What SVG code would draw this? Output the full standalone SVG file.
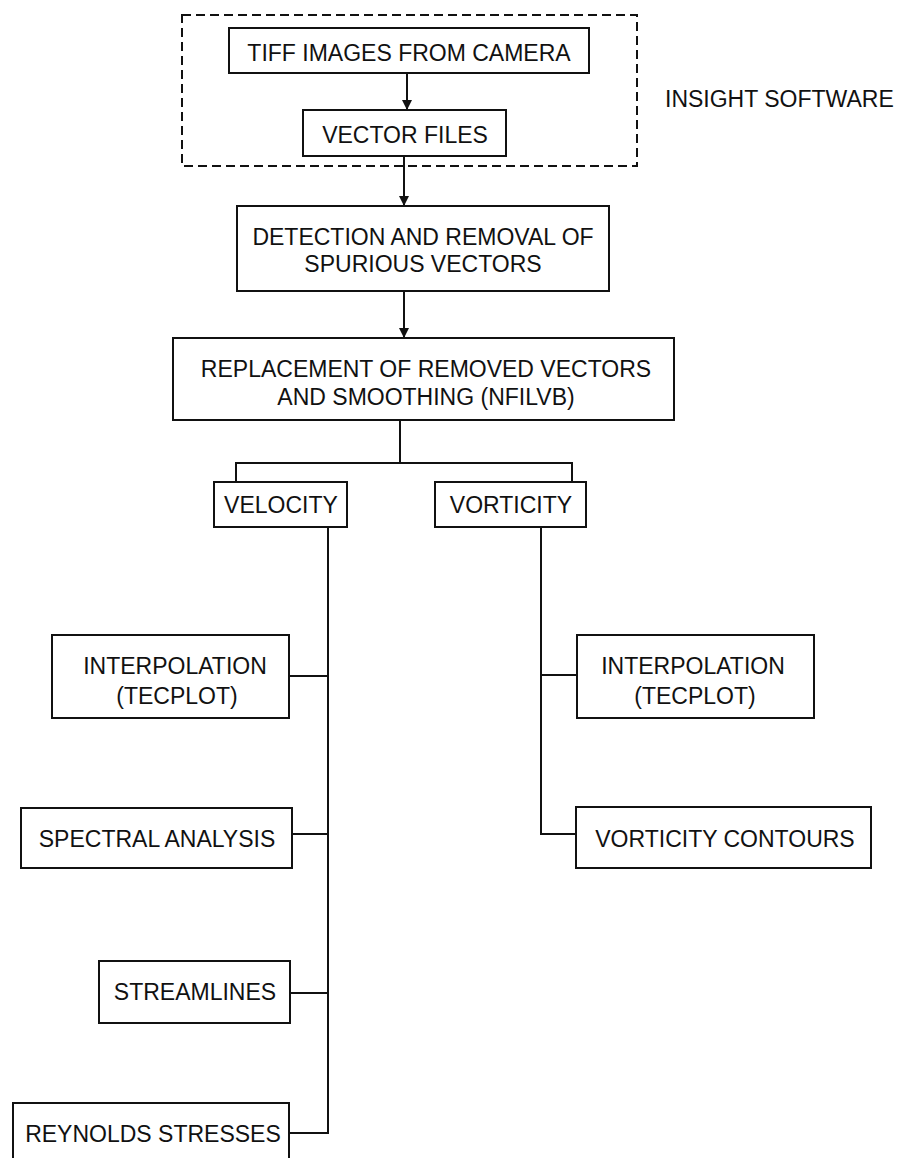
<svg xmlns="http://www.w3.org/2000/svg" width="901" height="1158" viewBox="0 0 901 1158">
<style>
.box{fill:#fff;stroke:#111;stroke-width:2}
.t{font-family:"Liberation Sans",Arial,sans-serif;font-size:23px;fill:#111;text-anchor:middle}
.ln{fill:none;stroke:#111;stroke-width:2}
</style>
<defs>
<marker id="arr" markerUnits="userSpaceOnUse" markerWidth="10" markerHeight="10" refX="10" refY="5" orient="auto">
<path d="M0,0 L10,5 L0,10 z" fill="#111"/>
</marker>
</defs>
<rect width="901" height="1158" fill="#fff"/>
<g id="insight-group">
<rect x="182" y="15" width="455" height="151" fill="none" stroke="#111" stroke-width="2" stroke-dasharray="9,5"/>
<text class="t" x="665" y="107" style="text-anchor:start">INSIGHT SOFTWARE</text>
</g>
<g id="connectors">
<line class="ln" x1="407" y1="73" x2="407" y2="110" marker-end="url(#arr)"/>
<line class="ln" x1="404" y1="156" x2="404" y2="206" marker-end="url(#arr)"/>
<line class="ln" x1="404" y1="291" x2="404" y2="338" marker-end="url(#arr)"/>
<polyline class="ln" points="400,420 400,463"/>
<polyline class="ln" points="236,482 236,463 572,463 572,482"/>
<polyline class="ln" points="328,527 328,1133 289,1133"/>
<line class="ln" x1="289" y1="676" x2="328" y2="676"/>
<line class="ln" x1="292" y1="834" x2="328" y2="834"/>
<line class="ln" x1="290" y1="993" x2="328" y2="993"/>
<polyline class="ln" points="541,527 541,834 576,834"/>
<line class="ln" x1="541" y1="675" x2="577" y2="675"/>
</g>
<g id="tiff">
<rect class="box" x="229" y="28" width="360" height="45"/>
<text class="t" x="409" y="61">TIFF IMAGES FROM CAMERA</text>
</g>
<g id="vector-files">
<rect class="box" x="303" y="110" width="203" height="46"/>
<text class="t" x="405" y="143">VECTOR FILES</text>
</g>
<g id="detection">
<rect class="box" x="237" y="206" width="372" height="85"/>
<text class="t" x="423" y="245">DETECTION AND REMOVAL OF</text>
<text class="t" x="423" y="272">SPURIOUS VECTORS</text>
</g>
<g id="replacement">
<rect class="box" x="173" y="338" width="501" height="82"/>
<text class="t" x="426" y="377">REPLACEMENT OF REMOVED VECTORS</text>
<text class="t" x="426" y="405">AND SMOOTHING (NFILVB)</text>
</g>
<g id="velocity">
<rect class="box" x="214" y="482" width="133" height="45"/>
<text class="t" x="281" y="513">VELOCITY</text>
</g>
<g id="vorticity">
<rect class="box" x="435" y="482" width="151" height="45"/>
<text class="t" x="511" y="513">VORTICITY</text>
</g>
<g id="interp-left">
<rect class="box" x="52" y="635" width="237" height="83"/>
<text class="t" x="175" y="674">INTERPOLATION</text>
<text class="t" x="177" y="704">(TECPLOT)</text>
</g>
<g id="spectral">
<rect class="box" x="21" y="808" width="271" height="60"/>
<text class="t" x="157" y="847">SPECTRAL ANALYSIS</text>
</g>
<g id="streamlines">
<rect class="box" x="99" y="961" width="191" height="62"/>
<text class="t" x="195" y="1000">STREAMLINES</text>
</g>
<g id="reynolds">
<rect class="box" x="13" y="1103" width="276" height="70"/>
<text class="t" x="153" y="1142">REYNOLDS STRESSES</text>
</g>
<g id="interp-right">
<rect class="box" x="577" y="635" width="237" height="83"/>
<text class="t" x="693" y="674">INTERPOLATION</text>
<text class="t" x="695" y="704">(TECPLOT)</text>
</g>
<g id="vort-contours">
<rect class="box" x="576" y="807" width="295" height="61"/>
<text class="t" x="725" y="847">VORTICITY CONTOURS</text>
</g>
</svg>
